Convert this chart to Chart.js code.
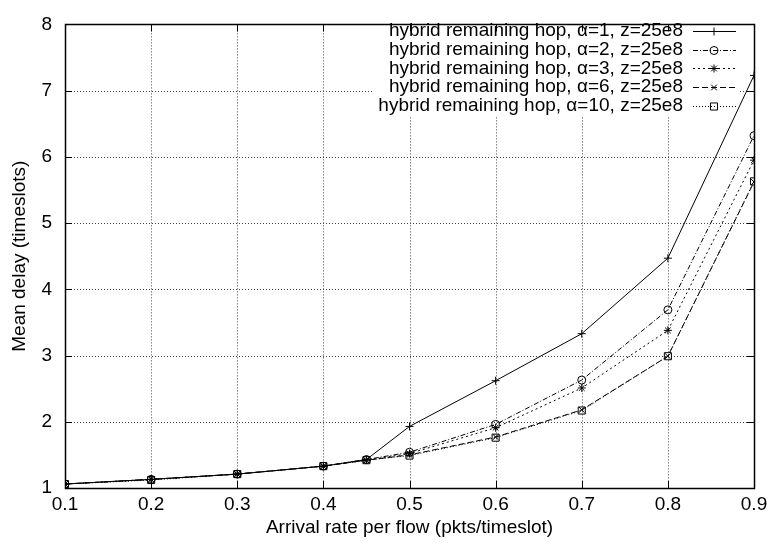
<!DOCTYPE html>
<html>
<head>
<meta charset="utf-8">
<script src="https://cdn.jsdelivr.net/npm/chart.js@4.4.0/dist/chart.umd.min.js"></script>
<style>
  html, body { margin: 0; padding: 0; background: #fff; }
  #wrap { width: 773px; height: 546px; }
</style>
</head>
<body>
<div id="wrap"><canvas id="myChart" width="773" height="546"></canvas></div>
<script>
// Arrival rate per flow (x positions of the samples)
const rates = [0.1, 0.2, 0.3, 0.4, 0.45, 0.5, 0.6, 0.7, 0.8, 0.9];

// Mean delay (timeslots), one array per alpha
const delayAlpha1  = [1.06, 1.13, 1.21, 1.33, 1.43, 1.93, 2.62, 3.33, 4.47, 7.23];
const delayAlpha2  = [1.06, 1.13, 1.21, 1.33, 1.43, 1.54, 1.96, 2.63, 3.69, 6.32];
const delayAlpha3  = [1.06, 1.13, 1.21, 1.33, 1.42, 1.52, 1.91, 2.51, 3.38, 5.95];
const delayAlpha6  = [1.06, 1.13, 1.21, 1.33, 1.42, 1.50, 1.77, 2.18, 2.99, 5.62];
const delayAlpha10 = [1.06, 1.12, 1.21, 1.33, 1.42, 1.49, 1.76, 2.17, 2.99, 5.63];

const seriesLabels = [
    'hybrid remaining hop, \u03b1=1, z=25e8',
    'hybrid remaining hop, \u03b1=2, z=25e8',
    'hybrid remaining hop, \u03b1=3, z=25e8',
    'hybrid remaining hop, \u03b1=6, z=25e8',
    'hybrid remaining hop, \u03b1=10, z=25e8',
];

// Tick labels
const xTicks = [0.1, 0.2, 0.3, 0.4, 0.5, 0.6, 0.7, 0.8, 0.9];
const yTicks = [1, 2, 3, 4, 5, 6, 7, 8];

const FONT = '"Liberation Sans", Arial, Helvetica, sans-serif';
const FSIZE = 19;

// gnuplot-like styles for each series
const styles = [
    { dash: [],           point: 'cross' },
    { dash: [5, 2, 1, 2], point: 'circle' },
    { dash: [2, 3],       point: 'star' },
    { dash: [6, 3],       point: 'crossRot' },
    { dash: [1, 2],       point: 'rect' },
];

const seriesData = [delayAlpha1, delayAlpha2, delayAlpha3, delayAlpha6, delayAlpha10];

const datasets = seriesData.map((vals, i) => ({
    label: seriesLabels[i],
    data: rates.map((r, j) => ({ x: r, y: vals[j] })),
    borderColor: '#000',
    borderWidth: 1,
    borderDash: styles[i].dash,
    pointStyle: styles[i].point,
    pointRadius: styles[i].point === 'rect' ? 5 : 4,
    pointBorderColor: '#000',
    pointBackgroundColor: 'rgba(0,0,0,0)',
    pointBorderWidth: 1,
    fill: false,
    tension: 0,
}));

// grid, border, mirrored ticks and the key, drawn the gnuplot way
const gnuplotFrame = {
    id: 'gnuplotFrame',
    beforeDatasetsDraw(chart) {
        const { ctx, chartArea: a, scales: { x, y } } = chart;
        ctx.save();
        ctx.strokeStyle = '#444';
        ctx.lineWidth = 1;
        ctx.setLineDash([1, 2]);
        ctx.beginPath();
        xTicks.slice(1, -1).forEach(v => {
            const px = Math.round(x.getPixelForValue(v)) + 0.5;
            ctx.moveTo(px, a.top);
            ctx.lineTo(px, a.bottom);
        });
        yTicks.slice(1, -1).forEach(v => {
            const py = Math.round(y.getPixelForValue(v)) + 0.5;
            ctx.moveTo(a.left, py);
            ctx.lineTo(a.right, py);
        });
        ctx.stroke();
        // opaque key box
        ctx.setLineDash([]);
        ctx.fillStyle = '#fff';
        ctx.fillRect(372, 21, 368, 95);
        ctx.restore();
    },
    afterDraw(chart) {
        const { ctx, chartArea: a, scales: { x, y } } = chart;
        ctx.save();
        ctx.strokeStyle = '#000';
        ctx.lineWidth = 1;
        ctx.setLineDash([]);
        ctx.beginPath();
        xTicks.forEach(v => {
            const px = Math.round(x.getPixelForValue(v)) + 0.5;
            ctx.moveTo(px, a.bottom); ctx.lineTo(px, a.bottom - 7);
            ctx.moveTo(px, a.top); ctx.lineTo(px, a.top + 7);
        });
        yTicks.forEach(v => {
            const py = Math.round(y.getPixelForValue(v)) + 0.5;
            ctx.moveTo(a.left, py); ctx.lineTo(a.left + 7, py);
            ctx.moveTo(a.right, py); ctx.lineTo(a.right - 7, py);
        });
        ctx.stroke();
        ctx.lineWidth = 1.5;
        ctx.strokeRect(Math.round(a.left) + 0.5, Math.round(a.top) + 0.5,
            Math.round(a.right - a.left), Math.round(a.bottom - a.top));

        // key
        ctx.font = FSIZE + 'px ' + FONT;
        ctx.fillStyle = '#000';
        ctx.textAlign = 'right';
        ctx.textBaseline = 'middle';
        datasets.forEach((ds, i) => {
            const ky = 31 + i * 18.7;
            ctx.fillText(ds.label, 683, ky);
            ctx.lineWidth = 1;
            ctx.setLineDash(ds.borderDash);
            ctx.beginPath();
            ctx.moveTo(693, Math.round(ky) + 0.5);
            ctx.lineTo(736, Math.round(ky) + 0.5);
            ctx.stroke();
            ctx.setLineDash([]);
            ctx.fillStyle = 'rgba(0,0,0,0)';
            Chart.helpers.drawPoint(ctx, {
                pointStyle: ds.pointStyle, radius: ds.pointRadius, rotation: 0, borderWidth: 1
            }, 714, Math.round(ky) + 0.5);
            ctx.fillStyle = '#000';
        });
        ctx.restore();
    }
};

const ctx = document.getElementById('myChart').getContext('2d');
new Chart(ctx, {
    type: 'line',
    data: { datasets },
    options: {
        responsive: false,
        animation: false,
        devicePixelRatio: 1,
        layout: { padding: { top: 12, right: 19, left: 0, bottom: 0 } },
        plugins: { legend: { display: false }, tooltip: { enabled: false } },
        scales: {
            x: {
                type: 'linear',
                min: 0.1,
                max: 0.9,
                afterBuildTicks: s => { s.ticks = xTicks.map(v => ({ value: v })); },
                afterFit: s => { s.height = 58; },
                grid: { display: false, drawTicks: false },
                border: { display: false },
                ticks: {
                    color: '#000',
                    padding: 5,
                    font: { family: FONT, size: FSIZE },
                    callback: v => v.toFixed(1),
                },
                title: {
                    display: true,
                    text: 'Arrival rate per flow (pkts/timeslot)',
                    color: '#000',
                    font: { family: FONT, size: FSIZE },
                    padding: { top: 0, bottom: 7 },
                },
            },
            y: {
                type: 'linear',
                min: 1,
                max: 8,
                afterBuildTicks: s => { s.ticks = yTicks.map(v => ({ value: v })); },
                afterFit: s => { s.width = 65; },
                grid: { display: false, drawTicks: false },
                border: { display: false },
                ticks: {
                    color: '#000',
                    padding: 13,
                    font: { family: FONT, size: FSIZE },
                    callback: v => String(v),
                },
                title: {
                    display: true,
                    text: 'Mean delay (timeslots)',
                    color: '#000',
                    font: { family: FONT, size: FSIZE },
                    padding: { top: 8, bottom: 0 },
                },
            },
        },
    },
    plugins: [gnuplotFrame],
});
</script>
</body>
</html>
